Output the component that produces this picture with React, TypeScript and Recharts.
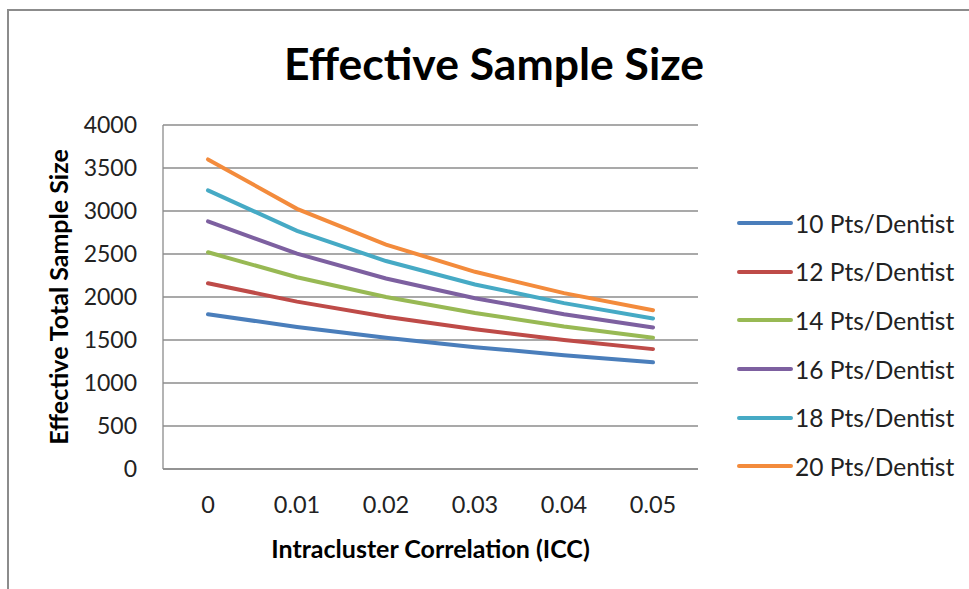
import React from "react";
import {
  LineChart,
  Line,
  XAxis,
  YAxis,
  CartesianGrid,
  Legend,
} from "recharts";

const iccLabels = ["0", "0.01", "0.02", "0.03", "0.04", "0.05"];
const pts10 = [1800, 1651, 1525, 1417, 1324, 1241];
const pts12 = [2160, 1946, 1770, 1624, 1500, 1394];
const pts14 = [2520, 2230, 2000, 1813, 1658, 1527];
const pts16 = [2880, 2504, 2215, 1986, 1800, 1646];
const pts18 = [3240, 2769, 2418, 2146, 1929, 1751];
const pts20 = [3600, 3025, 2609, 2293, 2045, 1846];
const yTicks = [0, 500, 1000, 1500, 2000, 2500, 3000, 3500, 4000];

const series = [
  { key: "p10", name: "10 Pts/Dentist", values: pts10, color: "#4A7EBB" },
  { key: "p12", name: "12 Pts/Dentist", values: pts12, color: "#BE4B48" },
  { key: "p14", name: "14 Pts/Dentist", values: pts14, color: "#98B954" },
  { key: "p16", name: "16 Pts/Dentist", values: pts16, color: "#7D60A0" },
  { key: "p18", name: "18 Pts/Dentist", values: pts18, color: "#46AAC5" },
  { key: "p20", name: "20 Pts/Dentist", values: pts20, color: "#F38B3C" },
];

const chartData = iccLabels.map((icc, i) => {
  const row: any = { icc };
  series.forEach((s) => {
    row[s.key] = s.values[i];
  });
  return row;
});

const FONT = "Lato, 'Open Sans', sans-serif";

// Leyenda a la derecha, como en Excel
const CustomLegend = () => (
  <div style={{ fontFamily: FONT }}>
    {series.map((s) => (
      <div
        key={s.key}
        style={{ display: "flex", alignItems: "center", height: 48.6 }}
      >
        <svg width={58} height={10}>
          <line
            x1={3}
            y1={5}
            x2={55}
            y2={5}
            stroke={s.color}
            strokeWidth={4}
            strokeLinecap="round"
          />
        </svg>
        <span style={{ fontSize: 24.5, color: "#222", marginLeft: 1 }}>
          {s.name}
        </span>
      </div>
    ))}
  </div>
);

const App: React.FC = () => {
  return (
    <div
      style={{
        position: "absolute",
        left: 0,
        top: 0,
        width: 969,
        height: 589,
        overflow: "hidden",
        background: "#fff",
      }}
    >
      <div
        style={{
          position: "absolute",
          left: 7,
          top: 9,
          width: 980,
          height: 600,
          border: "2px solid #8c8c8c",
        }}
      />
      <div
        style={{
          position: "absolute",
          left: 0,
          top: 36,
          width: 988,
          textAlign: "center",
          fontFamily: FONT,
          fontWeight: 700,
          fontSize: 44.5,
          color: "#000",
        }}
      >
        Effective Sample Size
      </div>
      <div style={{ position: "absolute", left: 0, top: 0 }}>
        <LineChart
          width={969}
          height={589}
          data={chartData}
          margin={{ top: 125, right: 271, bottom: 0, left: 0 }}
        >
          <CartesianGrid vertical={false} stroke="#8c8c8c" strokeWidth={1.3} />
          <XAxis
            dataKey="icc"
            padding={{ left: 45, right: 45 }}
            height={120}
            tickLine={false}
            tickSize={0}
            tickMargin={27}
            axisLine={{ stroke: "#8c8c8c", strokeWidth: 1.3 }}
            tick={{ fontSize: 23.5, fill: "#222", fontFamily: FONT }}
            label={{
              value: "Intracluster Correlation (ICC)",
              position: "center",
              dy: 20,
              style: {
                fontSize: 25,
                fontWeight: 700,
                fill: "#000",
                fontFamily: FONT,
              },
            }}
          />
          <YAxis
            domain={[0, 4000]}
            ticks={yTicks}
            width={163}
            tickLine={false}
            tickSize={0}
            tickMargin={26}
            axisLine={{ stroke: "#8c8c8c", strokeWidth: 1.3 }}
            tick={{ fontSize: 23, fill: "#222", fontFamily: FONT }}
            label={{
              value: "Effective Total Sample Size",
              angle: -90,
              position: "center",
              dx: -22,
              style: {
                fontSize: 25,
                fontWeight: 700,
                fill: "#000",
                fontFamily: FONT,
              },
            }}
          />
          <Legend
            layout="vertical"
            align="center"
            verticalAlign="middle"
            wrapperStyle={{ left: 736, top: 199, width: 235 }}
            content={<CustomLegend />}
          />
          {series.map((s) => (
            <Line
              key={s.key}
              dataKey={s.key}
              name={s.name}
              stroke={s.color}
              strokeWidth={4}
              strokeLinecap="round"
              dot={false}
              activeDot={false}
              type="linear"
              isAnimationActive={false}
            />
          ))}
        </LineChart>
      </div>
    </div>
  );
};

export default App;
